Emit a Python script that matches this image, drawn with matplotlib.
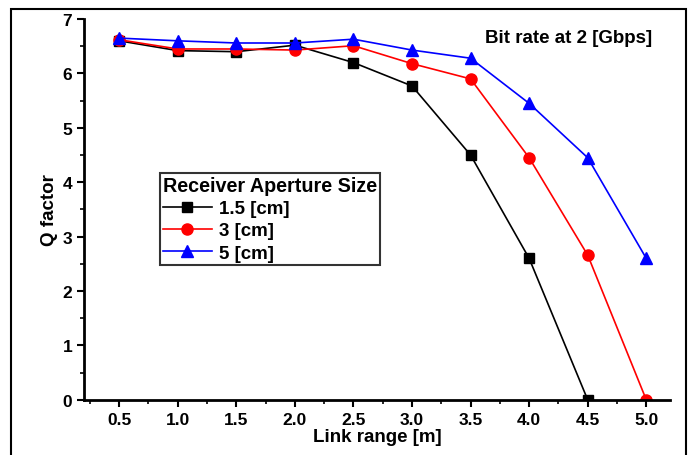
import matplotlib.pyplot as plt
from matplotlib.patches import Rectangle
from matplotlib.ticker import MultipleLocator

plt.rcParams['font.family'] = ['Liberation Sans', 'DejaVu Sans']
plt.rcParams['font.weight'] = 'bold'

link_range = [0.5, 1.0, 1.5, 2.0, 2.5, 3.0, 3.5, 4.0, 4.5, 5.0]
q_15cm = [6.60, 6.42, 6.40, 6.52, 6.20, 5.77, 4.50, 2.60, 0.0]
q_3cm = [6.62, 6.45, 6.45, 6.43, 6.51, 6.18, 5.90, 4.45, 2.66, 0.0]
q_5cm = [6.65, 6.60, 6.56, 6.56, 6.63, 6.43, 6.28, 5.45, 4.45, 2.60]

fig = plt.figure(figsize=(6.89, 4.56), dpi=100)
ax = fig.add_axes([0.122, 0.121, 0.85, 0.835])

# outer frame round the figure
fig.patches.append(Rectangle((11/689, -0.05), 675/689, 1.05 - 10/456, transform=fig.transFigure,
                             fill=False, edgecolor='black', linewidth=1.5))

ax.plot(link_range[:9], q_15cm, color='black', marker='s', markersize=7, linewidth=1.2, label='1.5 [cm]')
ax.plot(link_range, q_3cm, color='red', marker='o', markersize=8, linewidth=1.2, label='3 [cm]')
ax.plot(link_range, q_5cm, color='blue', marker='^', markersize=9, linewidth=1.2, label='5 [cm]')

ax.set_xlim(0.2, 5.2)
ax.set_ylim(0, 7)
ax.set_xticks(link_range)
ax.set_xticklabels([f'{v:.1f}' for v in link_range])
ax.xaxis.set_minor_locator(MultipleLocator(0.25))
ax.yaxis.set_major_locator(MultipleLocator(1))
ax.yaxis.set_minor_locator(MultipleLocator(0.5))

for s in ['top', 'right']:
    ax.spines[s].set_visible(False)
for s in ['left', 'bottom']:
    ax.spines[s].set_linewidth(2)

ax.tick_params(axis='both', which='major', direction='out', length=5, width=1.5, labelsize=12.5)
ax.tick_params(axis='both', which='minor', direction='out', length=3, width=1.2)

ax.set_xlabel('Link range [m]', fontsize=13.5, fontweight='bold', labelpad=1)
ax.set_ylabel('Q factor', fontsize=13.5, fontweight='bold', labelpad=3)

ax.text(0.97, 0.975, 'Bit rate at 2 [Gbps]', transform=ax.transAxes, ha='right', va='top',
        fontsize=13.5, fontweight='bold')

leg = ax.legend(title='Receiver Aperture Size', loc='upper left', bbox_to_anchor=(0.13, 0.596),
                fontsize=13.5, title_fontsize=14.2, frameon=True, fancybox=False, edgecolor='black',
                borderpad=0.15, labelspacing=0.28, handlelength=2.6, handletextpad=0.4,
                borderaxespad=0)
leg.get_frame().set_linewidth(1.5)
leg._legend_box.align = 'left'
leg.get_title().set_fontweight('bold')

fig.savefig('out.png', dpi=100)
